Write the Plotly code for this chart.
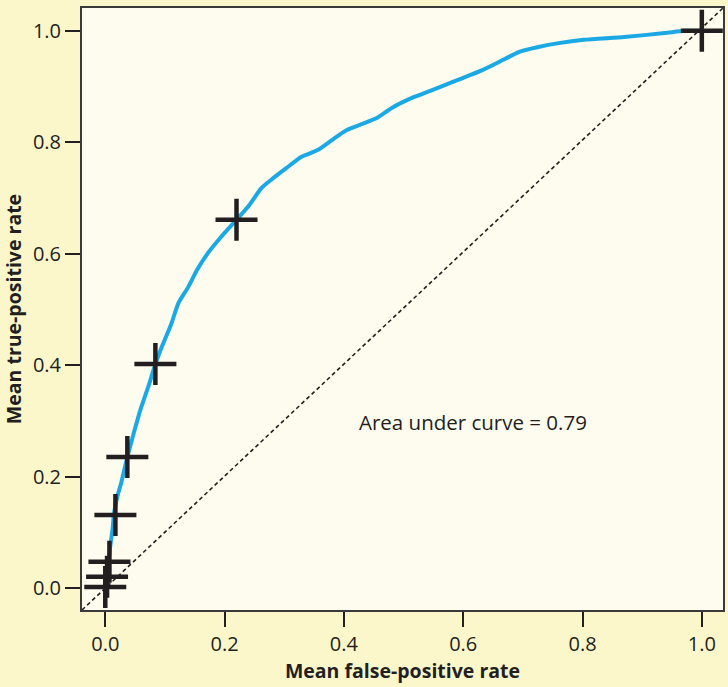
import plotly.graph_objects as go

# --- Data ---
curve_fpr = [0.002, 0.003, 0.005, 0.008, 0.012, 0.015, 0.020, 0.027, 0.037, 0.047,
             0.059, 0.073, 0.084, 0.096, 0.110, 0.123, 0.139, 0.154, 0.172, 0.194,
             0.220, 0.242, 0.262, 0.282, 0.304, 0.329, 0.356, 0.380, 0.405, 0.431,
             0.456, 0.481, 0.515, 0.549, 0.591, 0.633, 0.667, 0.693, 0.726, 0.760,
             0.802, 0.870, 0.938, 0.971, 1.0]
curve_tpr = [0.0, 0.018, 0.041, 0.072, 0.104, 0.136, 0.163, 0.190, 0.235, 0.275,
             0.320, 0.364, 0.402, 0.436, 0.472, 0.512, 0.540, 0.571, 0.601, 0.630,
             0.661, 0.688, 0.718, 0.736, 0.754, 0.774, 0.786, 0.804, 0.822, 0.833,
             0.844, 0.862, 0.880, 0.894, 0.912, 0.930, 0.948, 0.962, 0.971, 0.978,
             0.984, 0.989, 0.996, 1.0, 1.0]

point_fpr = [0.0, 0.003, 0.007, 0.017, 0.037, 0.084, 0.220, 1.0]
point_tpr = [0.002, 0.020, 0.047, 0.131, 0.235, 0.402, 0.661, 1.0]

x_range = [-0.039, 1.0355]
y_range = [-0.0395, 1.041]
auc_label = "Area under curve = 0.79"

font = "Open Sans, Noto Sans, sans-serif"
ink = "#231f20"

fig = go.Figure()

# chance diagonal, corner to corner
fig.add_trace(go.Scatter(
    x=x_range, y=y_range, mode="lines",
    line=dict(color=ink, width=1.6, dash="4px,3px"),
    hoverinfo="skip", showlegend=False,
))

fig.add_trace(go.Scatter(
    x=curve_fpr, y=curve_tpr, mode="lines",
    line=dict(color="#1aa9e4", width=4, shape="spline", smoothing=0.6),
    showlegend=False,
))

fig.add_trace(go.Scatter(
    x=point_fpr, y=point_tpr, mode="markers",
    marker=dict(symbol="cross-thin", size=30, line=dict(color=ink, width=4.5)),
    showlegend=False,
))

fig.add_annotation(
    x=0.422, y=0.298, xref="x", yref="y", text=auc_label,
    showarrow=False, xanchor="left", yanchor="middle",
    font=dict(family=font, size=20.5, color=ink),
)

axis_common = dict(
    showgrid=False, zeroline=False, automargin=False,
    showline=True, mirror=True, linecolor="#3a3a3a", linewidth=2,
    ticks="outside", ticklen=15, tickwidth=2, tickcolor=ink,
    tickfont=dict(family=font, size=20, color=ink),
    tickformat=".1f", tick0=0, dtick=0.2,
)

fig.update_xaxes(range=x_range, **axis_common,
                 title=dict(text="<b>Mean false-positive rate</b>",
                            font=dict(family=font, size=19.5, color=ink), standoff=8))
fig.update_yaxes(range=y_range, **axis_common,
                 title=dict(text="<b>Mean true-positive rate</b>",
                            font=dict(family=font, size=19.5, color=ink), standoff=8))

fig.update_layout(
    width=728, height=687,
    margin=dict(l=82, r=5, t=8, b=77),
    paper_bgcolor="#fbf7cb",
    plot_bgcolor="#fefcee",
)

# drop the browser's default body margin so the figure sits at the page corner
fig.write_html("out.html", config={"displayModeBar": False},
               post_script="document.body.style.margin='0';")
